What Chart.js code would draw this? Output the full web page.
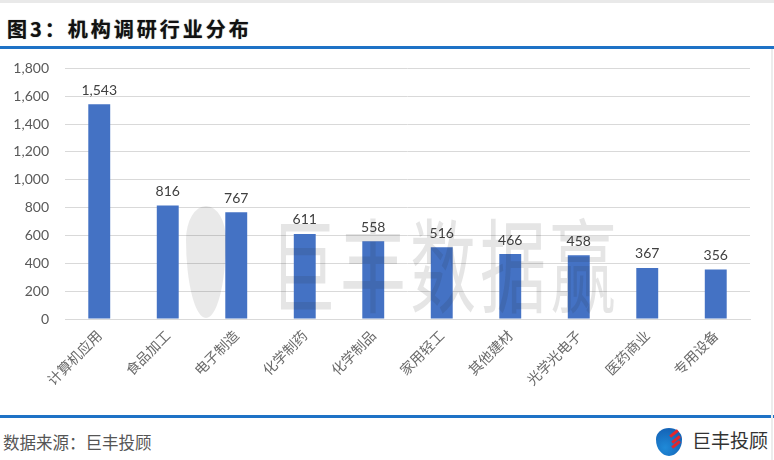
<!DOCTYPE html>
<html>
<head>
<meta charset="utf-8">
<script src="https://cdn.jsdelivr.net/npm/chart.js@4"></script>
<style>
  body { margin: 0; background: #fff; }
  #wrap { position: relative; width: 774px; height: 460px; overflow: hidden; background: #fff; }
  #topline { position: absolute; left: 0; top: 0; width: 774px; height: 3px; background: #e9e9e9; }
  #title { position: absolute; left: 7px; top: 14px; font: bold 20px "Noto Sans CJK SC", sans-serif; color: #111; letter-spacing: 3px; text-shadow: 0 0 1px #666; }
  #hline { position: absolute; left: 0; top: 46px; width: 774px; height: 3px; background: #1e72c6; }
  #fline { position: absolute; left: 0; top: 415px; width: 774px; height: 3px; background: #1e72c6; }
  #rline { position: absolute; left: 771px; top: 49px; width: 2px; height: 411px; background: #ececec; }
  #src { position: absolute; left: 3px; top: 430px; font: 16.5px "Noto Sans CJK SC", sans-serif; color: #555; }
  #brand { position: absolute; left: 692px; top: 426px; font: 19px "Noto Sans CJK SC", sans-serif; color: #333; }
  #icon { position: absolute; left: 656px; top: 428px; width: 26px; height: 28px; border-radius: 50% 50% 50% 50% / 40% 40% 60% 60%; background: radial-gradient(circle at 35% 70%, #1f8ad8 0%, #1565b8 70%); }
  #icon i { position: absolute; width: 10px; height: 3px; background: #e3262d; transform: rotate(-40deg); }
  #mark { position: absolute; left: 270px; top: 186px; font: 66px "Noto Sans CJK SC", sans-serif; color: rgba(40,40,40,0.12); letter-spacing: 4px; transform: scaleY(1.55); transform-origin: 0 0; pointer-events: none; white-space: nowrap; }
  #drop { position: absolute; left: 186px; top: 206px; width: 40px; height: 112px; border-radius: 50% 50% 50% 50% / 30% 30% 70% 70%; background: rgba(40,40,40,0.10); pointer-events: none; }
  canvas { position: absolute; left: 0; top: 44px; }
</style>
</head>
<body>
<div id="wrap">
  <div id="topline"></div>
  <div id="title">图3：机构调研行业分布</div>
  <div id="hline"></div>
  <canvas id="myChart" width="770" height="368"></canvas>
  <div id="drop"></div>
  <div id="mark">巨丰数据赢</div>
  <div id="fline"></div>
  <div id="rline"></div>
  <div id="src">数据来源：巨丰投顾</div>
  <div id="icon"><i style="left:13px;top:4px"></i><i style="left:15px;top:10px"></i><i style="left:15px;top:15px"></i></div>
  <div id="brand">巨丰投顾</div>
</div>
<script>
const industries = ['计算机应用', '食品加工', '电子制造', '化学制药', '化学制品', '家用轻工', '其他建材', '光学光电子', '医药商业', '专用设备'];
const counts = [1543, 816, 767, 611, 558, 516, 466, 458, 367, 356];
const yMax = 1800;
const yStep = 200;

const valueLabels = {
  id: 'valueLabels',
  afterDatasetsDraw(chart) {
    const ctx = chart.ctx;
    ctx.save();
    ctx.font = '14px Lato, "Open Sans", sans-serif';
    ctx.fillStyle = '#404040';
    ctx.textAlign = 'center';
    ctx.textBaseline = 'bottom';
    chart.getDatasetMeta(0).data.forEach((bar, i) => {
      ctx.fillText(counts[i].toLocaleString('en-US'), bar.x, bar.y - 7);
    });
    ctx.restore();
  }
};

new Chart(document.getElementById('myChart').getContext('2d'), {
  type: 'bar',
  data: {
    labels: industries,
    datasets: [{
      data: counts,
      backgroundColor: '#4472c4',
      borderWidth: 0,
      categoryPercentage: 1,
      barPercentage: 0.32,
    }],
  },
  options: {
    responsive: false,
    animation: false,
    layout: { padding: { top: 12, right: 20, left: 0, bottom: 0 } },
    plugins: { legend: { display: false }, tooltip: { enabled: false } },
    scales: {
      x: {
        grid: { display: false, drawTicks: false },
        border: { display: true, color: '#d9d9d9' },
        ticks: {
          minRotation: 45,
          maxRotation: 45,
          autoSkip: false,
          padding: 8,
          color: '#6a6a6a',
          font: { size: 14, family: '"Noto Sans CJK SC", sans-serif' },
        },
        afterFit(scale) { scale.height = 93; },
      },
      y: {
        min: 0,
        max: yMax,
        grid: { color: '#d9d9d9', drawTicks: false },
        border: { display: false },
        ticks: {
          stepSize: yStep,
          padding: 16,
          color: '#595959',
          font: { size: 14, family: 'Lato, "Open Sans", sans-serif' },
          callback: v => v.toLocaleString('en-US'),
        },
        afterFit(scale) { scale.width = 65; },
      },
    },
  },
  plugins: [valueLabels],
});
</script>
</body>
</html>
